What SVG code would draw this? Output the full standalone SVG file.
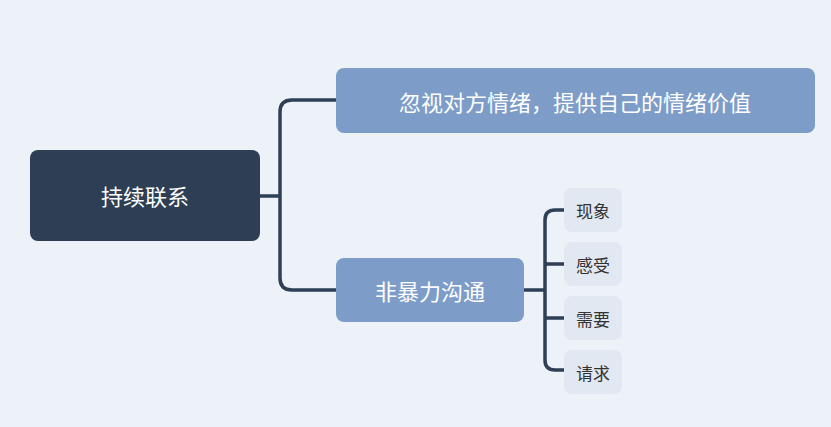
<svg xmlns="http://www.w3.org/2000/svg" width="831" height="427" viewBox="0 0 831 427">
<defs><style>
.ln{fill:none;stroke:#2e3f56;stroke-width:3.5;stroke-linecap:round}
.l1{fill:#7d9dc8}
.t1{fill:#fff;font-family:"Noto Sans CJK SC",sans-serif;font-size:22px;text-anchor:middle;dominant-baseline:central}
.c{fill:#e1e8f1}
.tc{fill:#333;font-family:"Noto Sans CJK SC",sans-serif;font-size:17px;text-anchor:middle;dominant-baseline:central}
</style></defs>
<rect width="831" height="427" fill="#edf2f8"/>
<g id="connectors">
<path class="ln" d="M260 196H280M337 100H292Q280 100 280 112V278Q280 290 292 290H337"/>
<path class="ln" d="M524 290H545M564 210H555Q545 210 545 220V360Q545 370 555 370H564M545 264H564M545 318H564"/>
</g>
<g id="root"><rect x="30" y="150" width="230" height="91" rx="8" fill="#2d3e55"/><text x="145" y="195" class="t1" font-size="30">持续联系</text></g>
<g id="n1"><rect class="l1" x="336" y="68" width="479" height="65" rx="8"/><text class="t1" x="575" y="101">忽视对方情绪，提供自己的情绪价值</text></g>
<g id="n2"><rect class="l1" x="336" y="258" width="188" height="64" rx="8"/><text class="t1" x="430" y="290">非暴力沟通</text></g>
<g id="c1"><rect class="c" x="564" y="188" width="58" height="44" rx="8"/><text class="tc" x="593" y="210">现象</text></g>
<g id="c2"><rect class="c" x="564" y="242" width="58" height="44" rx="8"/><text class="tc" x="593" y="264">感受</text></g>
<g id="c3"><rect class="c" x="564" y="296" width="58" height="44" rx="8"/><text class="tc" x="593" y="318">需要</text></g>
<g id="c4"><rect class="c" x="564" y="350" width="58" height="44" rx="8"/><text class="tc" x="593" y="372">请求</text></g>
</svg>
